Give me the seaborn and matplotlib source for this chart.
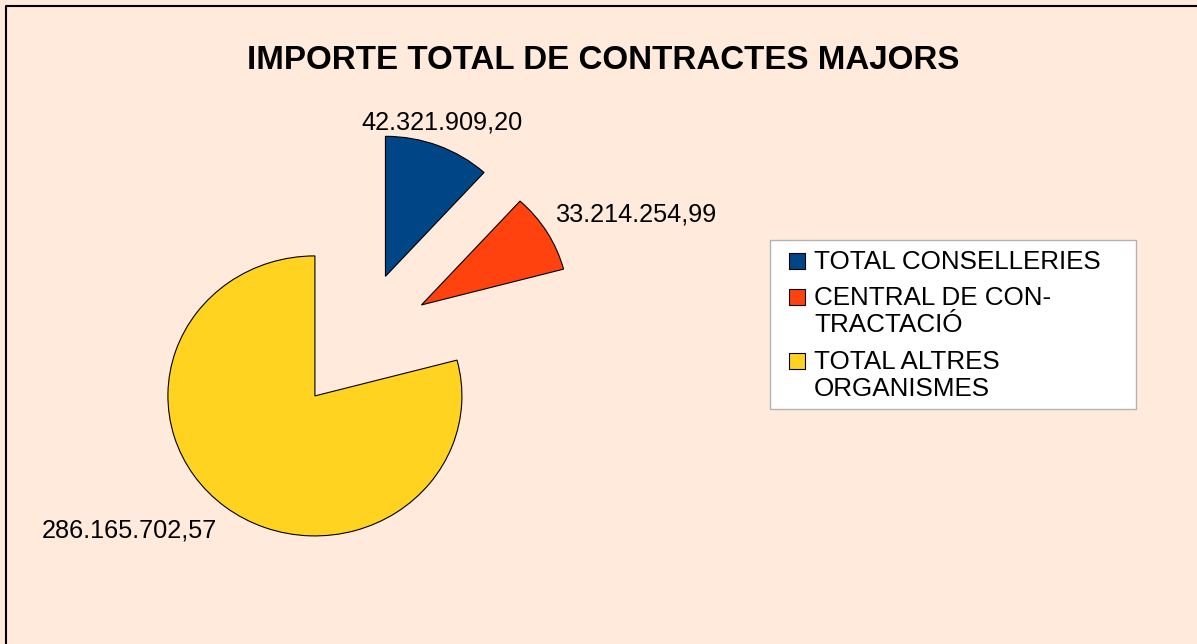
import matplotlib
matplotlib.use("Agg")
import matplotlib.pyplot as plt
from matplotlib.patches import Rectangle
from matplotlib.lines import Line2D
import seaborn as sns

# ---- data ----
categories = ["TOTAL CONSELLERIES", "CENTRAL DE CONTRACTACIÓ", "TOTAL ALTRES ORGANISMES"]
legend_labels = ["TOTAL CONSELLERIES", "CENTRAL DE CON-\nTRACTACIÓ", "TOTAL ALTRES\nORGANISMES"]
values = [42321909.20, 33214254.99, 286165702.57]
title = "IMPORTE TOTAL DE CONTRACTES MAJORS"

W, H = 1197, 644
BG = "#FFEADB"
colors = sns.color_palette(["#004586", "#FF420E", "#FFD320"])

sns.set_style("white")
plt.rcParams["font.family"] = ["Liberation Sans", "DejaVu Sans"]

def fmt(v):
    s = f"{v:,.2f}"
    return s.replace(",", "X").replace(".", ",").replace("X", ".")

fig = plt.figure(figsize=(W / 100, H / 100), dpi=100)
fig.patch.set_facecolor(BG)

def fx(px):
    return px / W

def fy(py):
    return 1 - py / H

# outer border (left & top visible)
fig.lines.append(Line2D([fx(6), fx(6), 1.0], [0.0, fy(6), fy(6)], transform=fig.transFigure,
                        color="black", linewidth=1.5, solid_capstyle="butt"))

# pie axes: pixel scaling rx=147, ry=140, center at (359, 341)
rx, ry, cx, cy = 147.0, 140.0, 359.3, 341.0
ax = fig.add_axes([0, 0, 1, 1])
ax.set_facecolor("none")
wedges, _ = ax.pie(values, colors=colors, startangle=90, counterclock=False,
                   explode=[0.495] * len(values),
                   wedgeprops=dict(edgecolor="black", linewidth=0.8))
ax.set_aspect("auto")
ax.set_xlim(-cx / rx, (W - cx) / rx)
ax.set_ylim(-(H - cy) / ry, cy / ry)
ax.axis("off")

# value labels
label_pos = [(442, 129.5), (637, 221), (129, 537.7)]
for v, (px, py) in zip(values, label_pos):
    fig.text(fx(px), fy(py), fmt(v), ha="center", va="baseline", fontsize=18.2, color="black")

# title
fig.text(fx(603), fy(69), title, ha="center", va="baseline", fontsize=23.9,
         fontweight="bold", color="black")

# legend box
fig.patches.append(Rectangle((fx(770), fy(409)), fx(1136) - fx(770), fy(240) - fy(409),
                             transform=fig.transFigure, facecolor="white",
                             edgecolor="#b3b3b3", linewidth=1.0))
rows_y = [261, 297, 361]
for lab, col, yc in zip(legend_labels, colors, rows_y):
    fig.patches.append(Rectangle((fx(789), fy(yc + 8)), fx(805) - fx(789), fy(yc - 8) - fy(yc + 8),
                                 transform=fig.transFigure, facecolor=col,
                                 edgecolor="black", linewidth=0.8))
    for i, line in enumerate(lab.split("\n")):
        fig.text(fx(814), fy(yc + 8 + 27.5 * i), line, ha="left", va="baseline",
                 fontsize=18.7, color="black")

fig.savefig("out.png", dpi=100, facecolor=BG)
